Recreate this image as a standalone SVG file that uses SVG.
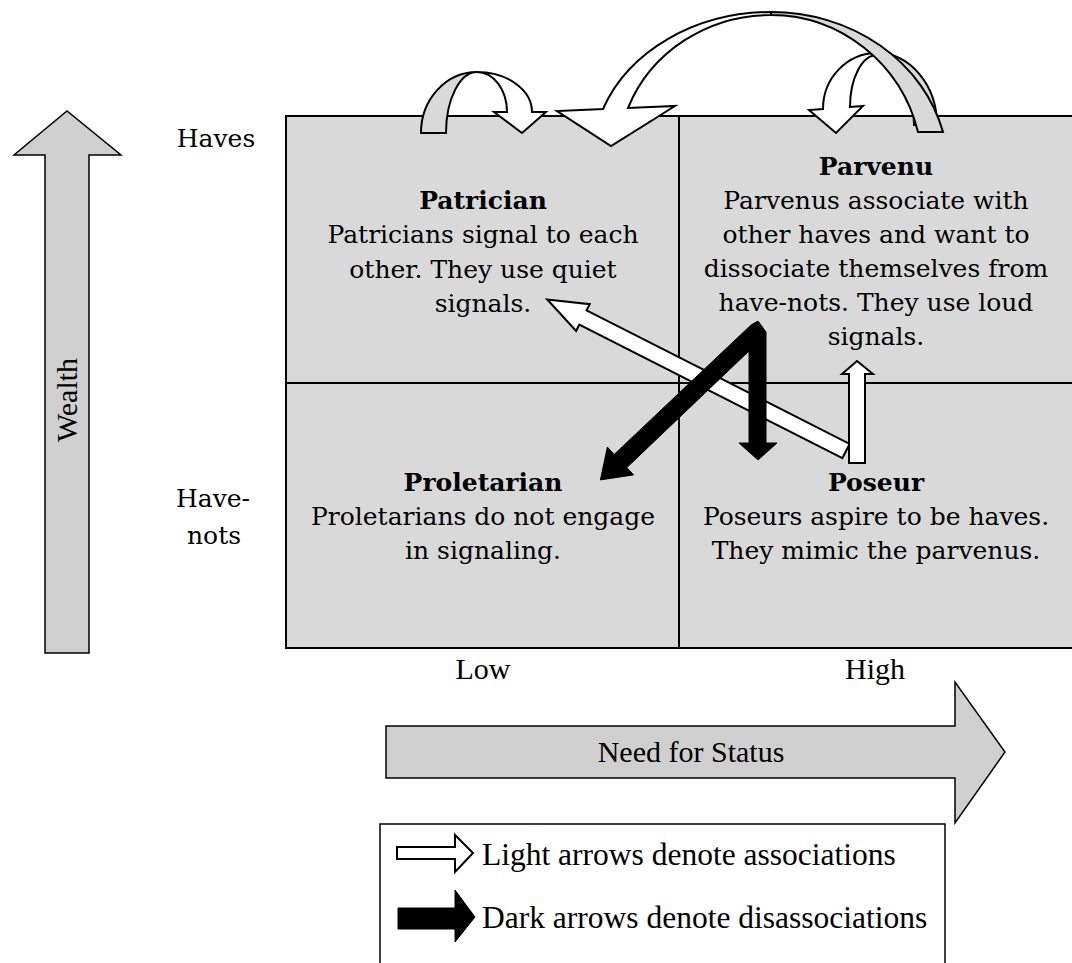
<svg xmlns="http://www.w3.org/2000/svg" width="1072" height="963" viewBox="0 0 1072 963">
  <style>
    .q { fill: #d9d9d9; stroke: none; }
    .grid { stroke: #000; stroke-width: 2; fill: none; }
    .body { font-family: "DejaVu Serif", serif; font-size: 25px; fill: #000; text-anchor: middle; }
    .head { font-family: "DejaVu Serif", serif; font-size: 25px; font-weight: bold; fill: #000; text-anchor: middle; }
    .axis { font-family: "Liberation Serif", serif; font-size: 30px; fill: #000; }
    .key { font-family: "Liberation Serif", serif; font-size: 31.5px; fill: #000; }
    .big { fill: #cfcfcf; stroke: #000; stroke-width: 1.5; stroke-linejoin: miter; }
    .light { fill: #fff; stroke: #000; stroke-width: 2; stroke-linejoin: miter; }
    .shade { fill: #d9d9d9; stroke: #000; stroke-width: 2; stroke-linejoin: miter; }
    .dark { fill: #000; stroke: #000; stroke-width: 1; }
  </style>

  <!-- wealth axis -->
  <g id="axis-wealth">
    <polygon class="big" points="45,653 45,155 14,155 67,111 121,155 89,155 89,653"/>
    <text class="axis" transform="translate(77,400) rotate(-90)" text-anchor="middle" font-size="33">Wealth</text>
    <text class="body" x="216" y="147">Haves</text>
    <text class="body" x="213" y="507">Have-</text>
    <text class="body" x="214" y="544">nots</text>
  </g>

  <!-- status axis -->
  <g id="axis-status">
    <text class="axis" x="483" y="679" text-anchor="middle">Low</text>
    <text class="axis" x="875" y="679" text-anchor="middle">High</text>
    <polygon class="big" points="386,726 955,726 955,682 1005,752 955,823 955,778 386,778"/>
    <text class="axis" x="691" y="762" text-anchor="middle" font-size="31.5">Need for Status</text>
  </g>

  <!-- quadrant grid -->
  <g id="grid">
    <rect class="q" x="286" y="116" width="800" height="532"/>
    <path class="grid" d="M1080,116 H286 V648 H1080 M679,116 V648 M286,383 H1080"/>
  </g>

  <g id="patrician">
    <text class="head" x="483" y="209">Patrician</text>
    <text class="body" x="483" y="243">Patricians signal to each</text>
    <text class="body" x="483" y="278">other. They use quiet</text>
    <text class="body" x="483" y="312">signals.</text>
  </g>

  <g id="parvenu">
    <text class="head" x="876" y="175">Parvenu</text>
    <text class="body" x="876" y="209">Parvenus associate with</text>
    <text class="body" x="876" y="243">other haves and want to</text>
    <text class="body" x="876" y="277">dissociate themselves from</text>
    <text class="body" x="876" y="311">have-nots. They use loud</text>
    <text class="body" x="876" y="345">signals.</text>
  </g>

  <g id="proletarian">
    <text class="head" x="483" y="491">Proletarian</text>
    <text class="body" x="483" y="525">Proletarians do not engage</text>
    <text class="body" x="483" y="559">in signaling.</text>
  </g>

  <g id="poseur">
    <text class="head" x="876" y="491">Poseur</text>
    <text class="body" x="876" y="525">Poseurs aspire to be haves.</text>
    <text class="body" x="876" y="559">They mimic the parvenus.</text>
  </g>

  <g id="connectors">
    <!-- patrician to patrician loop -->
    <path class="shade" d="M421,133 A56,61 0 0 1 477,72 A31,61 0 0 0 446,133 Z"/>
    <path class="light" d="M477,72 A55,40 0 0 1 532,112 L546,112 L522,133 L494,112 L507,112 A30,40 0 0 0 477,72 Z"/>
    <!-- parvenu to parvenu loop -->
    <path class="shade" d="M877,53 A60,72 0 0 1 937,125 L914,125 A37,70 0 0 0 877,55 Z"/>
    <path class="light" d="M877,53 A54,56 0 0 0 823,109 L809,110 L836,133 L863,106 L850,107 A27,52 0 0 1 877,55 Z"/>
    <!-- parvenu to patrician arc -->
    <path class="shade" d="M771,12 A177,158 0 0 1 943,132 L918,132 A152,155 0 0 0 771,15 Z"/>
    <path class="light" d="M771,12 A179,148 0 0 0 603,109 L557,111 L611,146 L675,106 L628,108 A153,145 0 0 1 771,15 Z"/>
    <!-- poseur to patrician -->
    <polygon class="light" transform="translate(846,451) rotate(206.9)" points="0,-8 295,-8 295,-15 335,0 295,15 295,8 0,8"/>
    <!-- poseur to parvenu -->
    <polygon class="light" points="849,463 849,374 842,374 857,361 873,374 865,374 865,463"/>
    <!-- parvenu away from poseur and proletarian -->
    <polygon class="dark" points="751,325 758,321 766,332 766,443 777,443 758,460 739,443 749,443 749,351 626.8,467.6 633.6,474.9 600.4,479.9 607.4,447.1 614.2,454.4"/>
  </g>

  <!-- legend -->
  <g id="legend">
    <rect x="380" y="824" width="565" height="160" fill="#fff" stroke="#000" stroke-width="1.5"/>
    <polygon class="light" stroke-width="1.5" points="397,847 455,847 455,835 473,853 455,872 455,859 397,859"/>
    <text class="key" x="482" y="865">Light arrows denote associations</text>
    <polygon class="dark" points="398,908 455,908 455,890 475,917 455,942 455,929 398,929"/>
    <text class="key" x="482" y="928">Dark arrows denote disassociations</text>
  </g>
</svg>
